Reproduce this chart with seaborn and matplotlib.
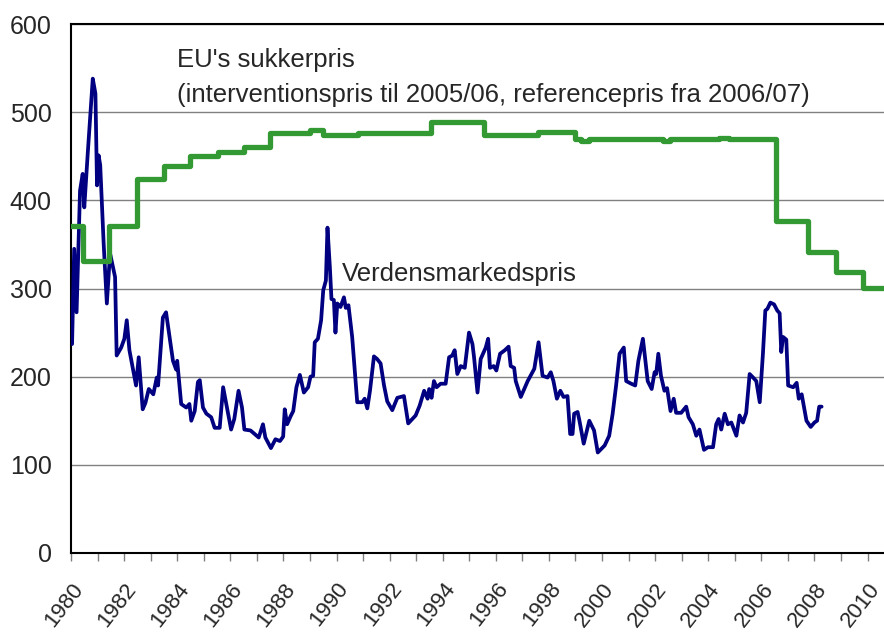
#!/usr/bin/env python3
# -*- coding: utf-8 -*-
"""EU sugar price vs world market price, 1980-2010."""

import matplotlib
matplotlib.use('Agg')
import matplotlib.pyplot as plt
from matplotlib.ticker import MultipleLocator
import seaborn as sns

# ==========================================
# data
# ==========================================
# EU price: step changes (year the new level starts, level)
eu_years = [1980.0, 1980.45, 1981.45, 1982.5, 1983.5, 1984.5, 1985.55, 1986.5,
            1987.5, 1989.0, 1989.5, 1990.8, 1993.55, 1995.55, 1997.6, 1999.0,
            1999.2, 1999.5, 2002.3, 2002.55, 2004.4, 2004.8, 2006.57, 2007.77,
            2008.8, 2009.82, 2010.62]
eu_prices = [371, 331, 371, 424, 439, 450, 455, 461,
             476, 480, 474, 476, 489, 474, 478, 470,
             467, 470, 467, 469, 471, 469, 377, 341,
             319, 301, 301]

# world market price (monthly-ish trace)
world_years = [
    1980.04, 1980.12, 1980.21, 1980.34, 1980.44, 1980.50, 1980.63, 1980.82, 1980.92, 1980.98,
    1981.04, 1981.10, 1981.23, 1981.35, 1981.47, 1981.66, 1981.72, 1981.89, 1982.01, 1982.10,
    1982.20, 1982.45, 1982.55, 1982.70, 1982.80, 1982.93, 1983.10, 1983.23, 1983.28, 1983.46,
    1983.58, 1983.84, 1983.96, 1984.00, 1984.15, 1984.34, 1984.46, 1984.53, 1984.66, 1984.78,
    1984.85, 1984.97, 1985.10, 1985.28, 1985.41, 1985.60, 1985.73, 1985.90, 1986.03, 1986.15,
    1986.31, 1986.44, 1986.53, 1986.76, 1987.07, 1987.23, 1987.32, 1987.53, 1987.70, 1987.87,
    1987.99, 1988.05, 1988.14, 1988.27, 1988.37, 1988.49, 1988.62, 1988.77, 1988.93, 1989.02,
    1989.12, 1989.18, 1989.30, 1989.42, 1989.50, 1989.60, 1989.66, 1989.75, 1989.81, 1989.90,
    1989.96, 1990.03, 1990.15, 1990.28, 1990.35, 1990.45, 1990.59, 1990.68, 1990.78, 1990.97,
    1991.06, 1991.16, 1991.26, 1991.41, 1991.53, 1991.66, 1991.79, 1991.91, 1992.10, 1992.29,
    1992.54, 1992.70, 1992.98, 1993.13, 1993.30, 1993.43, 1993.49, 1993.58, 1993.67, 1993.77,
    1993.92, 1994.11, 1994.24, 1994.36, 1994.45, 1994.55, 1994.68, 1994.83, 1994.99, 1995.12,
    1995.18, 1995.31, 1995.43, 1995.62, 1995.71, 1995.78, 1995.92, 1996.02, 1996.16, 1996.34,
    1996.48, 1996.56, 1996.69, 1996.75, 1996.94, 1997.20, 1997.45, 1997.61, 1997.76, 1997.95,
    1998.07, 1998.17, 1998.30, 1998.43, 1998.55, 1998.70, 1998.80, 1998.89, 1998.95, 1999.08,
    1999.15, 1999.31, 1999.52, 1999.70, 1999.84, 1999.97, 2000.10, 2000.27, 2000.40, 2000.53,
    2000.66, 2000.82, 2000.91, 2001.10, 2001.25, 2001.37, 2001.54, 2001.72, 2001.87, 2001.98,
    2002.04, 2002.12, 2002.22, 2002.35, 2002.45, 2002.58, 2002.70, 2002.79, 2002.98, 2003.17,
    2003.26, 2003.42, 2003.55, 2003.67, 2003.84, 2003.99, 2004.18, 2004.30, 2004.39, 2004.49,
    2004.62, 2004.74, 2004.87, 2005.06, 2005.18, 2005.31, 2005.43, 2005.56, 2005.69, 2005.81,
    2005.94, 2006.06, 2006.15, 2006.23, 2006.34, 2006.48, 2006.60, 2006.69, 2006.75, 2006.82,
    2006.94, 2007.01, 2007.20, 2007.33, 2007.41, 2007.52, 2007.61, 2007.70, 2007.86, 2008.00,
    2008.10, 2008.18, 2008.27,
]
world_prices = [
    237, 345, 273, 411, 430, 392, 453, 538, 521, 417,
    451, 440, 351, 283, 340, 313, 224, 233, 243, 264,
    230, 190, 222, 163, 170, 186, 180, 199, 190, 267,
    273, 218, 208, 218, 169, 165, 169, 150, 161, 194,
    196, 165, 158, 154, 142, 142, 188, 161, 140, 152,
    184, 165, 140, 139, 131, 146, 131, 119, 129, 127,
    132, 163, 146, 155, 161, 188, 202, 182, 188, 200,
    201, 239, 243, 264, 298, 309, 369, 324, 288, 287,
    250, 283, 279, 290, 278, 281, 245, 210, 171, 171,
    175, 164, 184, 223, 220, 215, 190, 172, 162, 176,
    178, 147, 156, 167, 184, 175, 186, 176, 195, 188,
    192, 192, 222, 224, 230, 203, 212, 210, 250, 237,
    222, 182, 220, 233, 243, 210, 212, 207, 226, 230,
    234, 212, 210, 195, 177, 195, 209, 239, 201, 199,
    205, 195, 175, 184, 177, 178, 135, 135, 158, 160,
    150, 124, 150, 139, 114, 118, 122, 133, 158, 190,
    226, 233, 195, 192, 190, 218, 243, 195, 186, 205,
    203, 226, 201, 184, 187, 161, 175, 159, 159, 166,
    154, 146, 133, 140, 117, 120, 120, 146, 152, 140,
    158, 146, 148, 133, 156, 148, 159, 203, 199, 195,
    171, 226, 275, 277, 284, 282, 275, 272, 228, 245,
    242, 190, 188, 193, 175, 180, 165, 150, 143, 148,
    150, 166, 166,
]

year_ticks = list(range(1980, 2011, 2))
price_ticks = list(range(0, 601, 100))

# ==========================================
# style
# ==========================================
sns.set_style("white")
plt.rcParams['font.family'] = ['Liberation Sans', 'DejaVu Sans']

BLUE = '#000080'
GREEN = '#339933'
GRID = '#808080'

fig = plt.figure(figsize=(8.84, 6.33), dpi=100)
ax = fig.add_axes([71 / 884, 80 / 633, 813 / 884, 529 / 633])

sns.lineplot(x=world_years, y=world_prices, ax=ax, color=BLUE, linewidth=2.7,
             sort=False, estimator=None, zorder=3)
sns.lineplot(x=eu_years, y=eu_prices, ax=ax, color=GREEN, linewidth=3.8,
             sort=False, estimator=None, drawstyle='steps-post', zorder=4)

ax.set_xlim(1980, 2010.62)
ax.set_ylim(0, 600)
ax.set_xlabel('')
ax.set_ylabel('')

# grid + frame
ax.set_axisbelow(True)
ax.yaxis.grid(True, color=GRID, linewidth=1.0)
ax.xaxis.grid(False)
for side in ['left', 'bottom', 'top']:
    ax.spines[side].set_color('black')
    ax.spines[side].set_linewidth(1.5)
ax.spines['right'].set_visible(False)

# ticks
ax.set_yticks(price_ticks)
ax.set_yticklabels([str(v) for v in price_ticks], fontsize=18)
ax.tick_params(axis='y', direction='out', length=6, width=1, color=GRID, pad=8)

ax.xaxis.set_minor_locator(MultipleLocator(1))
ax.set_xticks(year_ticks)
ax.set_xticklabels([str(y) for y in year_ticks], fontsize=16, rotation=52,
                   ha='right', va='top', rotation_mode='anchor')
ax.tick_params(axis='x', which='both', direction='out', length=5.5, width=1,
               color=GRID, pad=13, bottom=True)

# annotations
ax.text(1984.0, 551, "EU's sukkerpris", fontsize=18.5, va='baseline', ha='left')
ax.text(1984.0, 512, "(interventionspris til 2005/06, referencepris fra 2006/07)",
        fontsize=18.5, va='baseline', ha='left')
ax.text(1990.2, 309, "Verdensmarkedspris", fontsize=18.5, va='baseline', ha='left')

fig.savefig('out.png', dpi=100)
